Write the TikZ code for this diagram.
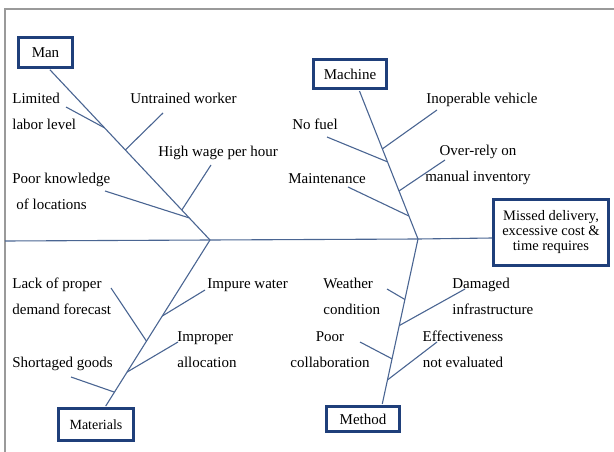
\documentclass[tikz,border=0pt]{standalone}
\usepackage{fontspec}
\setmainfont{Liberation Serif}
\usepackage{tikz}
\usetikzlibrary{positioning, calc}
\definecolor{bonecol}{HTML}{4A6592}
\definecolor{boxcol}{HTML}{1F3F7A}
\definecolor{framecol}{HTML}{9A9A9A}
\tikzset{every picture/.style={line width=0.75pt}}
\tikzset{
  catbox/.style={draw=boxcol, line width=2.6pt, fill=white, inner sep=0pt,
    font=\fontsize{15}{18}\selectfont},
  bone/.style={draw=bonecol, line width=1.1pt},
  cause/.style={inner sep=0pt, align=left, anchor=base west,
    font=\fontsize{15}{26}\selectfont},
  framerule/.style={draw=framecol, line width=2pt}
}

\begin{document}
\begin{tikzpicture}[x=1pt, y=-1pt]
\useasboundingbox (0,0) rectangle (614,452);
\draw[framerule] (5,452) -- (5,9) -- (614,9);

\node[catbox, minimum width=54pt, minimum height=30pt] (man) at (45.5,52.5) {Man};
\node[catbox, minimum width=73pt, minimum height=29pt] (machine) at (350,74) {Machine};
\node[catbox, minimum width=75pt, minimum height=32pt, font=\fontsize{14}{16}\selectfont] (materials) at (96,424.5) {Materials};
\node[catbox, minimum width=73pt, minimum height=25pt] (method) at (363,419) {Method};
\node[catbox, minimum width=115pt, minimum height=66pt, align=center,
  font=\fontsize{14.5}{15}\selectfont] (effect) at (551,232.5)
  {Missed delivery,\\excessive cost \&\\time requires};

% spine
\coordinate (tail) at (5,241);
\coordinate (j1) at (210,240);
\coordinate (j2) at (418,239);
\draw[bone] (tail) -- (j1) -- (j2) -- ([yshift=-5.5pt]effect.west);

% main bones
\draw[bone, shorten <=1.3pt] ([xshift=3.5pt]man.south) -- (j1)
  coordinate[pos=0.345] (b1) coordinate[pos=0.474] (b2)
  coordinate[pos=0.825] (b3) coordinate[pos=0.871] (b4);
\draw[bone, shorten <=1.3pt] ([xshift=9pt]machine.south) -- (j2)
  coordinate[pos=0.396] (b5) coordinate[pos=0.483] (b6)
  coordinate[pos=0.678] (b7) coordinate[pos=0.846] (b8);
\draw[bone, shorten >=1.3pt] (j1) -- ([xshift=9pt]materials.north)
  coordinate[pos=0.455] (b9) coordinate[pos=0.605] (b10)
  coordinate[pos=0.79] (b11) coordinate[pos=0.91] (b12);
\draw[bone, shorten >=1.3pt] (j2) -- ([xshift=19pt]method.north)
  coordinate[pos=0.364] (b13) coordinate[pos=0.521] (b14)
  coordinate[pos=0.721] (b15) coordinate[pos=0.848] (b16);

% small bones
\coordinate (e1) at (66,107);
\coordinate (e2) at (163,113);
\coordinate (e3) at (211,165);
\coordinate (e4) at (105,191);
\coordinate (e5) at (437,110);
\coordinate (e6) at (327,137);
\coordinate (e7) at (445,160);
\coordinate (e8) at (348,187);
\coordinate (e9) at (205,290);
\coordinate (e10) at (111,288);
\coordinate (e11) at (178,342);
\coordinate (e12) at (71,377);
\coordinate (e13) at (387,289);
\coordinate (e14) at (465,289);
\coordinate (e15) at (360,342);
\coordinate (e16) at (437,342);
\foreach \i in {1,...,16} {
  \draw[bone] (b\i) -- (e\i);
}

% causes (two-line labels sit on the baseline of their last line)
\node[cause] (limited) at (12,130) {Limited\\labor level};
\node[cause] (untrained) at (130,104) {Untrained worker};
\node[cause] (wage) at (158,157) {High wage per hour};
\node[cause] (knowledge) at (12,209) {Poor knowledge\\\hspace*{4pt}of locations};
\node[cause] (vehicle) at (426,103) {Inoperable vehicle};
\node[cause] (fuel) at (292,130) {No fuel};
\node[cause, align=center, anchor=base] (overrely) at (478,182) {Over-rely on\\manual inventory};
\node[cause] (maint) at (288,183) {Maintenance};
\node[cause] (forecast) at (12,314) {Lack of proper\\demand forecast};
\node[cause] (water) at (207,288) {Impure water};
\node[cause] (alloc) at (177,367) {Improper\\allocation};
\node[cause] (shortage) at (12,367) {Shortaged goods};
\node[cause] (weather) at (323,314) {Weather\\condition};
\node[cause] (damaged) at (452,314) {Damaged\\infrastructure};
\node[cause, align=center, anchor=base] (collab) at (330,367) {Poor\\collaboration};
\node[cause, align=center, anchor=base] (evaluated) at (463,367) {Effectiveness\\not evaluated};
\end{tikzpicture}
\end{document}
